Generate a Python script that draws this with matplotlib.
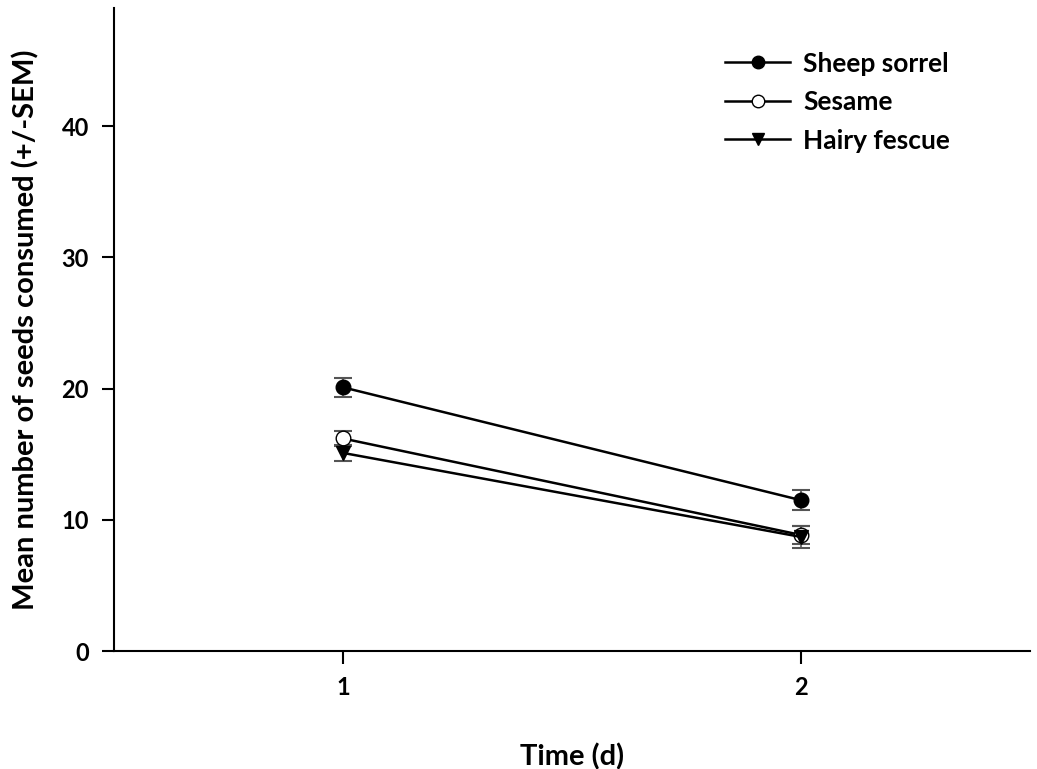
import matplotlib
matplotlib.use("Agg")
import matplotlib.pyplot as plt
from matplotlib.lines import Line2D

days = [1, 2]
sorrel = [20.1, 11.5]
sorrel_err = [0.7, 0.75]
sesame = [16.2, 8.85]
sesame_err = [0.6, 0.7]
fescue = [15.1, 8.7]
fescue_err = [0.6, 0.85]
labels = ['Sheep sorrel', 'Sesame', 'Hairy fescue']

plt.rcParams['font.family'] = ['Lato', 'DejaVu Sans']
plt.rcParams['font.weight'] = 'bold'

fig = plt.figure(figsize=(10.37, 7.69), dpi=100)
ax = fig.add_axes([0.110, 0.1534, 0.883, 0.836])

common = dict(color='black', lw=1.8, capsize=6.5, capthick=1.5, elinewidth=1.2, ecolor='#555555', markersize=10.5)
ax.errorbar(days, sorrel, yerr=sorrel_err, marker='o', mfc='black', mec='black', **common)
ax.errorbar(days, sesame, yerr=sesame_err, marker='o', mfc='white', mec='black', **common)
ax.errorbar(days, fescue, yerr=fescue_err, marker='v', mfc='black', mec='black', **common)

ax.set_xlim(0.5, 2.5)
ax.set_ylim(0, 49)
ax.set_xticks([1, 2])
ax.set_yticks([0, 10, 20, 30, 40])
ax.spines['top'].set_visible(False)
ax.spines['right'].set_visible(False)
ax.spines['left'].set_linewidth(1.5)
ax.spines['bottom'].set_linewidth(1.5)
ax.tick_params(direction='out', length=9, width=1.5, labelsize=17, pad=9)
for lbl in ax.get_xticklabels() + ax.get_yticklabels():
    lbl.set_fontweight('bold')

ax.set_xlabel('Time (d)', fontsize=21, fontweight='bold', labelpad=32)
ax.set_ylabel('Mean number of seeds consumed (+/-SEM)', fontsize=21, fontweight='bold', labelpad=16)

handles = [
    Line2D([], [], color='black', lw=1.8, marker='o', mfc='black', mec='black', markersize=9),
    Line2D([], [], color='black', lw=1.8, marker='o', mfc='white', mec='black', markersize=9),
    Line2D([], [], color='black', lw=1.8, marker='v', mfc='black', mec='black', markersize=9),
]
leg = ax.legend(handles, labels, loc='upper left', bbox_to_anchor=(0.653, 0.953), frameon=False,
                fontsize=19, borderpad=0, handlelength=2.45, labelspacing=0.55, handletextpad=0.5)
for t in leg.get_texts():
    t.set_fontweight('bold')

fig.savefig('out.png', dpi=100)
